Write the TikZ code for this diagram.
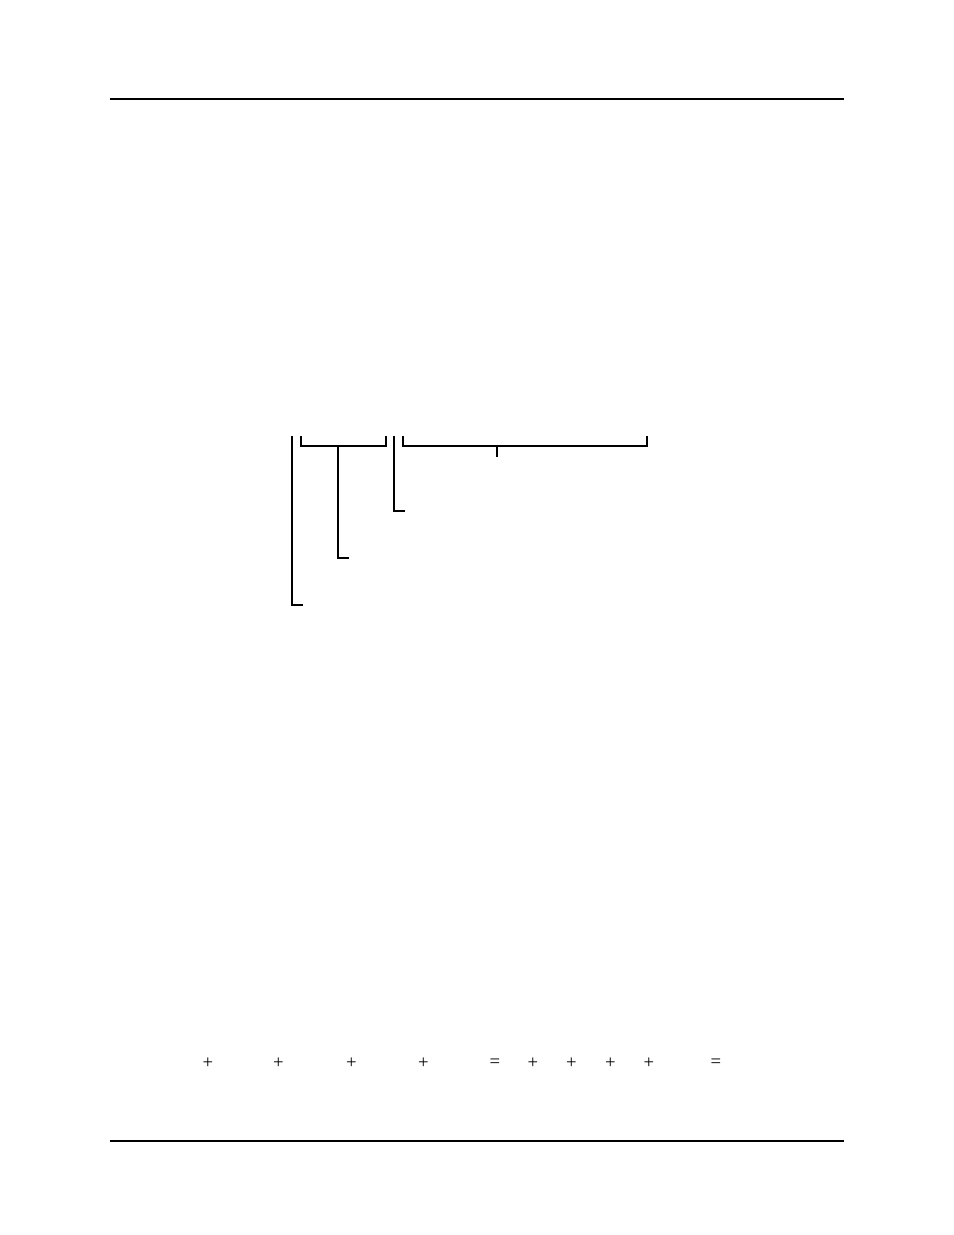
\documentclass[tikz,border=0pt]{standalone}
\usepackage{fontspec}
\setmainfont{Liberation Serif}

\begin{document}
\begin{tikzpicture}[x=0.6415pt, y=-0.6415pt,
    rule/.style={line width=1.3pt},
    brack/.style={line width=1.05pt},
    sign/.style={inner sep=0pt, font=\fontsize{12}{14}\selectfont}]
    \useasboundingbox (0,0) rectangle (954,1235);
        % page rules
        \coordinate (head l) at (110,99);
        \coordinate (head r) at (844,99);
        \coordinate (foot l) at (110,1141);
        \coordinate (foot r) at (844,1141);
        \draw[rule] (head l) -- (head r);
        \draw[rule] (foot l) -- (foot r);
        % outer field
        \coordinate (f top) at (291.7,436);
        \coordinate (f bot) at (291.7,605);
        \coordinate (f end) at (302.7,605);
        \draw[brack] (f top) -- (f bot) -- (f end);
        % first group
        \coordinate (g1 a) at (300.7,436);
        \coordinate (g1 b) at (300.7,446);
        \coordinate (g1 c) at (386,446);
        \coordinate (g1 d) at (386,436);
        \coordinate (g1 mid) at (338.3,446);
        \coordinate (g1 low) at (338.3,558);
        \coordinate (g1 end) at (349,558);
        \draw[brack] (g1 a) -- (g1 b) -- (g1 c) -- (g1 d);
        \draw[brack] (g1 mid) -- (g1 low) -- (g1 end);
        % second field
        \coordinate (s top) at (394,436);
        \coordinate (s bot) at (394,511);
        \coordinate (s end) at (405,511);
        \draw[brack] (s top) -- (s bot) -- (s end);
        % second group
        \coordinate (g2 a) at (403.3,436);
        \coordinate (g2 b) at (403.3,446);
        \coordinate (g2 c) at (647.3,446);
        \coordinate (g2 d) at (647.3,436);
        \coordinate (g2 mid) at (497.3,446);
        \coordinate (g2 low) at (497.3,457);
        \draw[brack] (g2 a) -- (g2 b) -- (g2 c) -- (g2 d);
        \draw[brack] (g2 mid) -- (g2 low);
        % sum line
        \foreach \x/\s [count=\i] in {208/+, 278.5/+, 351.5/+, 423.5/+, 495/=,
                                      533/+, 571.5/+, 610.5/+, 649/+, 716/=}
            \node[sign] (op\i) at (\x,1063.5) {\s};
    \end{tikzpicture}
\end{document}
